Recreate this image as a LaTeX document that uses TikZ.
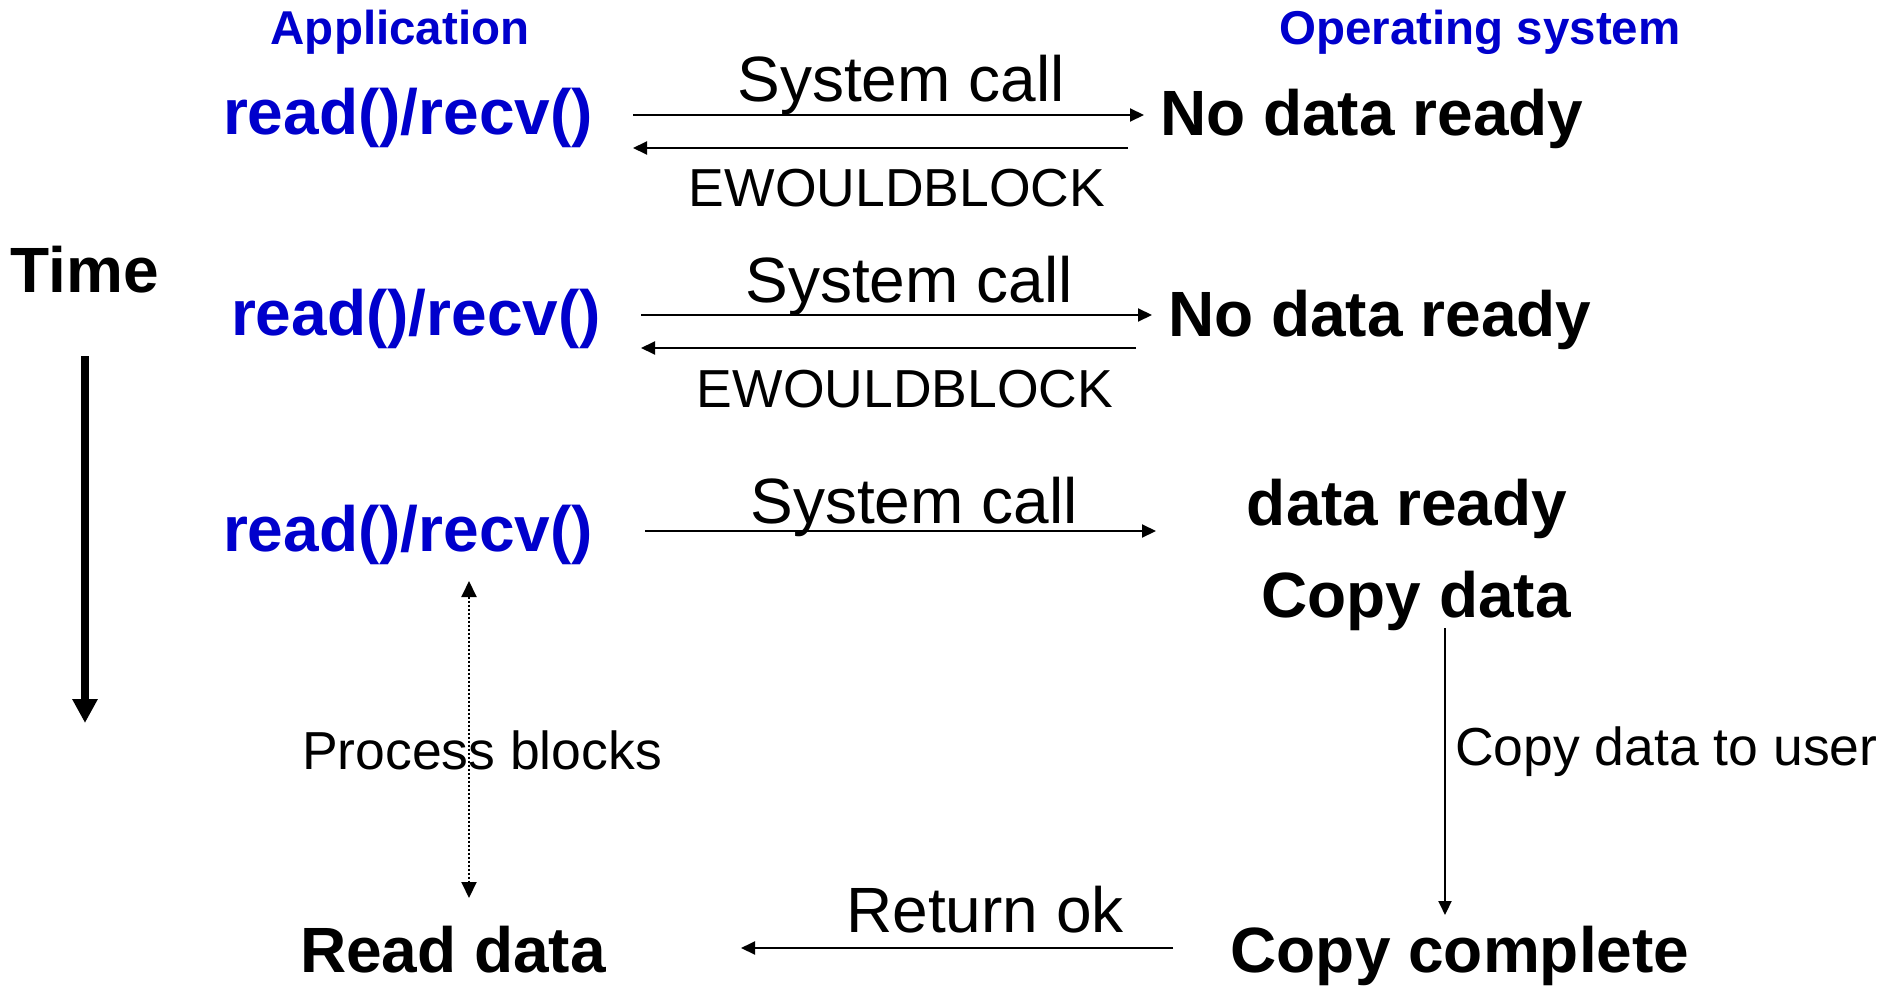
\documentclass[tikz,border=0pt]{standalone}
\usepackage{fontspec}
\setmainfont{Liberation Sans}
\usetikzlibrary{arrows.meta}
\definecolor{appblue}{RGB}{0,0,204}
\tikzset{
  big/.style={font=\fontsize{64}{70}\selectfont, inner sep=0pt, anchor=base},
  bigb/.style={font=\fontsize{64}{70}\selectfont\bfseries, inner sep=0pt, anchor=base},
  mid/.style={font=\fontsize{53.5}{60}\selectfont, inner sep=0pt, anchor=base},
  head/.style={font=\fontsize{47.5}{54}\selectfont\bfseries, text=appblue, inner sep=0pt, anchor=base},
  call/.style={bigb, text=appblue},
  msg/.style={line width=2pt, -{Triangle[length=14pt,width=13pt]}},
  blk/.style={line width=2pt, dotted, {Triangle[length=16pt,width=15pt]}-{Triangle[length=16pt,width=15pt]}},
  timearrow/.style={line width=8pt, -{Triangle[length=24pt,width=24pt]}}
}
\begin{document}
\begin{tikzpicture}[x=1pt,y=-1pt]
\useasboundingbox (0,0) rectangle (1884,987);
% headings
\node[head] (apphead) at (400,45) {Application};
\node[head] (oshead) at (1480,45) {Operating system};
% time
\node[bigb] (time) at (85,292) {Time};
\coordinate (t1) at (85,356);
\coordinate (t2) at (85,723);
\draw[timearrow] (t1) -- (t2);
% row 1
\node[call] (r1app) at (408,135) {read()/recv()};
\node[big] (r1sc) at (901,102) {System call};
\node[mid] (r1ew) at (897,207) {EWOULDBLOCK};
\node[bigb, anchor=base west] (r1os) at (1160,136) {No data ready};
\coordinate (r1a) at (633,115);
\coordinate (r1b) at (1144,115);
\coordinate (r1c) at (1128,148);
\coordinate (r1d) at (633,148);
\draw[msg] (r1a) -- (r1b);
\draw[msg] (r1c) -- (r1d);
% row 2
\node[call] (r2app) at (416,335) {read()/recv()};
\node[big] (r2sc) at (909,302) {System call};
\node[mid] (r2ew) at (905,407) {EWOULDBLOCK};
\node[bigb, anchor=base west] (r2os) at (1168,336) {No data ready};
\coordinate (r2a) at (641,315);
\coordinate (r2b) at (1152,315);
\coordinate (r2c) at (1136,348);
\coordinate (r2d) at (641,348);
\draw[msg] (r2a) -- (r2b);
\draw[msg] (r2c) -- (r2d);
% row 3
\node[call] (r3app) at (408,551) {read()/recv()};
\node[big] (r3sc) at (914,523) {System call};
\node[bigb] (r3os) at (1407,525) {data ready};
\node[bigb] (copy) at (1416,617) {Copy data};
\coordinate (r3a) at (645,531);
\coordinate (r3b) at (1156,531);
\draw[msg] (r3a) -- (r3b);
% blocking
\coordinate (b1) at (469,581);
\coordinate (b2) at (469,898);
\draw[blk] (b1) -- (b2);
\node[mid] (blocks) at (482,769) {Process blocks};
% copy to user
\coordinate (c1) at (1445,628);
\coordinate (c2) at (1445,915);
\draw[msg] (c1) -- (c2);
\node[mid, anchor=base west] (touser) at (1455,765) {Copy data to user};
% bottom
\node[bigb] (readdata) at (453,972) {Read data};
\node[bigb] (done) at (1460,972) {Copy complete};
\node[big] (retok) at (985,932) {Return ok};
\coordinate (k1) at (1173,948);
\coordinate (k2) at (741,948);
\draw[msg] (k1) -- (k2);
\end{tikzpicture}
\end{document}
